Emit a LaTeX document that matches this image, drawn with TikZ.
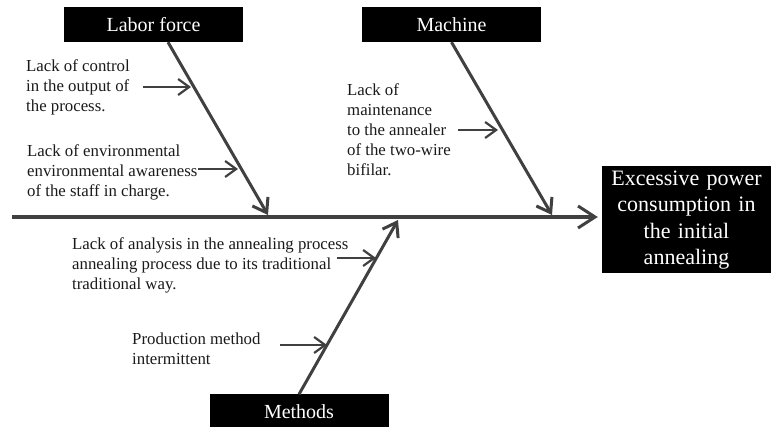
\documentclass[tikz,border=0pt]{standalone}
\usepackage{fontspec}
\setmainfont{Liberation Serif}
\usetikzlibrary{arrows.meta}
\definecolor{linegray}{HTML}{404040}
\definecolor{textdark}{HTML}{1A1A1A}
\begin{document}
\begin{tikzpicture}[x=1pt,y=-1pt,
  catbox/.style={fill=black,text=white,font=\fontsize{20}{24}\selectfont,
    minimum width=179pt,minimum height=35pt,inner sep=0pt},
  effectbox/.style={fill=black,text=white,font=\fontsize{22}{26.5}\selectfont,
    minimum width=169pt,minimum height=107pt,text width=165pt,align=center,inner sep=0pt},
  cause/.style={anchor=west,align=left,inner sep=0pt,
    font=\fontsize{16.8}{20}\selectfont,text=textdark},
  spineline/.style={draw=linegray,line width=3.4pt,
    -{Straight Barb[length=17pt,width=22pt,line width=3pt]}},
  bone/.style={draw=linegray,line width=3pt,
    -{Straight Barb[length=13pt,width=18pt,line width=3pt]}},
  twig/.style={draw=linegray,line width=2.4pt,
    -{Straight Barb[length=11pt,width=16pt,line width=2.2pt]}}]
\useasboundingbox (0,0) rectangle (772,427);

% boxes
\node[catbox] (labor) at (153.5,24.5) {Labor force};
\node[catbox] (machine) at (451.5,24.5) {Machine};
\node[catbox] (methods) at (299,412) {Methods};
\node[effectbox] (effect) at (686.5,220)
  {Excessive power\\ consumption in\\ the initial\\ annealing};

% spine
\coordinate (tail) at (12,217);
\draw[spineline,shorten >=4pt] (tail) -- (tail -| effect.west);

% bones
\coordinate (lhead) at (268,215);
\coordinate (mhead) at (552,215);
\coordinate (thead) at (398,220);
\draw[bone] ([xshift=14.5pt]labor.south) -- (lhead);
\draw[bone] (machine.south) -- (mhead);
\draw[bone] (methods.north) -- (thead);

% causes
\node[cause] (c1) at (26,87) {Lack of control\\in the output of\\the process.};
\node[cause] (c2) at (27,172) {Lack of environmental\\environmental awareness\\of the staff in charge.};
\node[cause] (c3) at (347,130) {Lack of\\maintenance\\to the annealer\\of the two-wire\\bifilar.};
\node[cause] (c4) at (72,265) {Lack of analysis in the annealing process\\annealing process due to its traditional\\traditional way.};
\node[cause] (c5) at (132,349) {Production method\\intermittent};

% twigs
\coordinate (a1s) at (143,87);  \coordinate (a1e) at (191,87);
\coordinate (a2s) at (198,169); \coordinate (a2e) at (238,169);
\coordinate (a3s) at (458,130); \coordinate (a3e) at (498,130);
\coordinate (a4s) at (337,258); \coordinate (a4e) at (376,258);
\coordinate (a5s) at (280,345); \coordinate (a5e) at (327,345);
\draw[twig] (a1s) -- (a1e);
\draw[twig] (a2s) -- (a2e);
\draw[twig] (a3s) -- (a3e);
\draw[twig] (a4s) -- (a4e);
\draw[twig] (a5s) -- (a5e);
\end{tikzpicture}
\end{document}
